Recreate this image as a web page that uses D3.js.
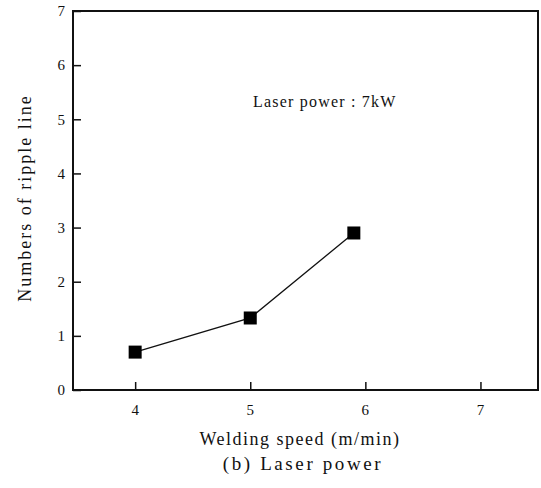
<!DOCTYPE html>
<html>
<head>
<meta charset="utf-8">
<script src="https://cdn.jsdelivr.net/npm/d3@7"></script>
<style>
  body { margin: 0; background: #fff; }
  text { font-family: "Liberation Serif", "DejaVu Serif", serif; fill: #111; }
</style>
</head>
<body>
<svg id="chart" width="541" height="488"></svg>
<script>
const speeds = [4, 5, 5.9];
const ripples = [0.7, 1.33, 2.9];
const xTicks = [4, 5, 6, 7];
const yTicks = [0, 1, 2, 3, 4, 5, 6, 7];

const svg = d3.select("#chart");
const plotLeft = 73, plotRight = 538, plotTop = 11, plotBottom = 390;

const x = d3.scaleLinear().domain([3.46, 7.5]).range([plotLeft, plotRight]);
const y = d3.scaleLinear().domain([0, 7]).range([plotBottom, plotTop]);

// frame
svg.append("rect")
  .attr("x", plotLeft)
  .attr("y", plotTop)
  .attr("width", plotRight - plotLeft)
  .attr("height", plotBottom - plotTop)
  .attr("fill", "none")
  .attr("stroke", "#111")
  .attr("stroke-width", 2);

// y axis, ticks pointing inward
const yAxis = svg.append("g")
  .attr("transform", `translate(${plotLeft},0)`)
  .call(d3.axisRight(y).tickValues(yTicks).tickSize(8).tickFormat(""));
yAxis.select(".domain").remove();
yAxis.selectAll("line").attr("stroke", "#111").attr("stroke-width", 1.5);

svg.append("g")
  .selectAll("text")
  .data(yTicks)
  .join("text")
  .attr("x", plotLeft - 8)
  .attr("y", (d) => y(d))
  .attr("dy", "0.35em")
  .attr("text-anchor", "end")
  .attr("font-size", 15)
  .text((d) => d);

// x axis, ticks pointing up
const xAxis = svg.append("g")
  .attr("transform", `translate(0,${plotBottom})`)
  .call(d3.axisTop(x).tickValues(xTicks).tickSize(8).tickFormat(""));
xAxis.select(".domain").remove();
xAxis.selectAll("line").attr("stroke", "#111").attr("stroke-width", 1.5);

svg.append("g")
  .selectAll("text")
  .data(xTicks)
  .join("text")
  .attr("x", (d) => x(d))
  .attr("y", plotBottom + 25)
  .attr("text-anchor", "middle")
  .attr("font-size", 15)
  .text((d) => d);

// axis titles
svg.append("text")
  .attr("x", 300)
  .attr("y", 445)
  .attr("text-anchor", "middle")
  .attr("font-size", 18)
  .attr("letter-spacing", 1.5)
  .text("Welding speed (m/min)");

svg.append("text")
  .attr("transform", "translate(31,198) rotate(-90)")
  .attr("text-anchor", "middle")
  .attr("font-size", 18)
  .attr("letter-spacing", 2)
  .text("Numbers of ripple line");

svg.append("text")
  .attr("x", 303)
  .attr("y", 470)
  .attr("text-anchor", "middle")
  .attr("font-size", 19)
  .attr("letter-spacing", 2.6)
  .text("(b) Laser power");

svg.append("text")
  .attr("x", 253)
  .attr("y", 107)
  .attr("font-size", 16)
  .attr("letter-spacing", 1.2)
  .text("Laser power : 7kW");

// series
const data = speeds.map((s, i) => ({ s, v: ripples[i] }));

svg.append("path")
  .datum(data)
  .attr("fill", "none")
  .attr("stroke", "#111")
  .attr("stroke-width", 1.3)
  .attr("d", d3.line().x((d) => x(d.s)).y((d) => y(d.v)));

const size = 13;
svg.append("g")
  .selectAll("rect")
  .data(data)
  .join("rect")
  .attr("x", (d) => x(d.s) - size / 2)
  .attr("y", (d) => y(d.v) - size / 2)
  .attr("width", size)
  .attr("height", size)
  .attr("fill", "#000");
</script>
</body>
</html>
